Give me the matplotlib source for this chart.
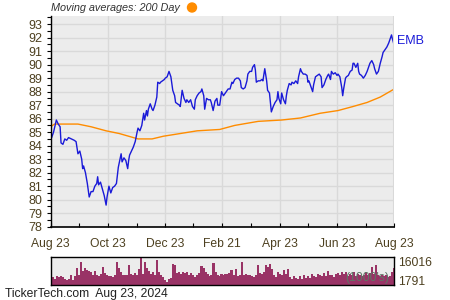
import numpy as np
import pandas as pd
import matplotlib
matplotlib.use("Agg")
import matplotlib.pyplot as plt
from matplotlib import transforms
from matplotlib.patches import Ellipse

plt.rcParams['font.family'] = ['Liberation Sans', 'DejaVu Sans']

start = pd.Timestamp("2023-08-23")
end = pd.Timestamp("2024-08-23")

# EMB close, days after start
price_day = [0, 1, 3, 6, 8, 10, 11, 13, 15, 17, 19, 22, 25, 27, 29, 31, 33, 34, 35, 37,
             39, 41, 43, 45, 47, 49, 50, 51, 53, 55, 57, 59, 60, 62, 64, 66, 68, 70, 72, 75,
             76, 78, 80, 82, 83, 84, 88, 90, 92, 93, 95, 97, 99, 100, 102, 103, 104, 106, 108, 109,
             111, 113, 114, 116, 117, 119, 121, 122, 124, 126, 128, 130, 132, 133, 135, 137, 138, 140, 142, 144,
             145, 147, 149, 151, 153, 154, 156, 158, 160, 161, 163, 164, 166, 168, 170, 171, 173, 175, 177, 178,
             180, 182, 184, 186, 187, 189, 191, 193, 194, 196, 198, 200, 202, 203, 205, 207, 209, 210, 212, 214,
             215, 217, 218, 219, 221, 223, 225, 226, 228, 230, 231, 233, 234, 235, 237, 239, 241, 242, 243, 245,
             246, 248, 250, 251, 252, 254, 256, 257, 259, 261, 263, 264, 266, 267, 269, 271, 273, 274, 275, 277,
             279, 280, 282, 284, 286, 288, 289, 291, 293, 295, 296, 298, 299, 301, 303, 305, 306, 308, 310, 311,
             312, 314, 315, 317, 319, 321, 322, 323, 325, 327, 328, 329, 331, 333, 335, 337, 338, 340, 342, 344,
             345, 347, 349, 351, 353, 354, 356, 358, 360, 361, 363, 364, 366]
price = [85.3, 84.6, 85.0, 85.9, 85.6, 85.4, 84.2, 84.1, 84.5, 84.4, 84.6, 84.5, 84.4, 84.3, 83.4, 83.6, 83.0, 82.3, 82.5, 82.0,
         81.2, 80.2, 80.6, 80.6, 81.0, 81.2, 81.7, 81.1, 81.3, 80.8, 80.3, 79.6, 80.2, 81.0, 80.5, 80.9, 81.0, 81.2, 82.4, 83.4,
         82.8, 83.1, 82.9, 82.3, 82.9, 83.3, 83.9, 84.3, 85.0, 85.3, 85.1, 85.5, 86.4, 85.9, 86.6, 86.2, 86.7, 87.1, 86.7, 86.6,
         87.0, 87.6, 88.7, 88.6, 88.7, 88.8, 88.9, 89.0, 89.1, 89.5, 89.1, 88.1, 87.7, 87.2, 87.1, 87.0, 86.9, 88.1, 87.5, 87.2,
         87.4, 87.2, 87.4, 86.9, 86.7, 87.4, 87.7, 87.9, 88.0, 88.2, 87.7, 86.7, 87.5, 87.4, 87.4, 87.2, 86.6, 87.3, 87.5, 87.0,
         87.0, 88.0, 87.7, 87.9, 88.0, 88.2, 88.2, 88.7, 88.6, 88.9, 89.0, 89.0, 88.8, 88.3, 88.2, 88.3, 88.8, 89.3, 89.5, 89.5,
         89.8, 90.0, 89.6, 88.7, 88.8, 88.8, 88.9, 88.8, 89.7, 88.8, 88.1, 87.9, 87.2, 86.5, 86.9, 87.2, 87.4, 88.0, 87.5, 87.1,
         87.9, 87.4, 87.1, 87.7, 88.1, 88.6, 88.5, 88.7, 88.6, 88.8, 88.6, 89.1, 89.7, 89.5, 89.3, 89.3, 89.2, 88.7, 88.8, 88.4,
         88.0, 88.5, 89.1, 89.2, 89.3, 89.1, 88.3, 88.5, 88.9, 89.2, 89.3, 88.9, 89.5, 89.3, 89.4, 89.2, 89.3, 89.1, 88.3, 87.7,
         88.2, 89.0, 89.1, 89.2, 89.5, 89.6, 90.1, 90.1, 89.8, 90.1, 89.5, 89.3, 89.2, 89.0, 89.2, 89.5, 89.7, 90.1, 90.3, 90.0,
         89.7, 89.3, 89.5, 90.1, 90.6, 90.9, 91.1, 91.3, 91.6, 91.8, 92.2, 91.9, 91.4]

# 200 day moving average
ma_day = [0, 4, 29, 43, 59, 73, 88, 93, 108, 120, 138, 156, 180, 196, 221, 246, 266, 287, 306, 322, 337, 351, 366]
ma = [85.4, 85.6, 85.6, 85.4, 85.1, 84.9, 84.6, 84.5, 84.5, 84.7, 84.9, 85.1, 85.2, 85.5, 85.8, 85.9, 86.05, 86.4,
      86.6, 86.9, 87.2, 87.6, 88.2]

# volume (1000's)
volume = [4970, 4420, 3500, 4780, 4420, 4970, 4420, 3500, 2760, 3500, 5340, 2580, 4970, 9380, 5340, 12700, 8100, 9380, 8650, 8100,
          7180, 5700, 8100, 5700, 4970, 6260, 9940, 6810, 5700, 4970, 4970, 4420, 5700, 12700, 9380, 7540, 5700, 5340, 5700, 11220,
          6260, 5700, 6810, 5700,
          9020, 16016, 6260, 12700, 9380, 8100, 6260, 7540, 5340, 14170, 7180, 5700, 4420, 2580, 1791, 3130, 3860, 11780, 11220, 6810,
          7540, 6260, 7540, 6810, 7540, 5700, 6810, 5340, 4420, 5340, 6810, 10860, 9380, 7540, 6260, 4970, 5340, 12330, 7180, 5700,
          4970, 6260, 5700, 6260,
          6260, 6810, 8650, 5340, 9020, 4970, 5340, 13060, 5700, 6260, 5340, 5700, 4970, 4420, 5700, 11220, 6810, 6260, 7540, 11220,
          9940, 11780, 9020, 5700, 4420, 7540, 6260, 5340, 8650, 6260, 9020, 4420, 3500, 4970, 3860, 3130, 4970, 3500, 5340, 3860,
          4970, 3860, 6260, 4970,
          4420, 6260, 5340, 4970, 6810, 4970, 8100, 5700, 5340, 4420, 6260, 6810, 5700, 7540, 6260, 7540, 4970, 6260, 5340, 7180,
          4970, 6260, 5340, 4970, 5700, 7540, 5700, 6810, 9940, 6260, 11220, 5340, 4970, 5340, 4970, 5340, 4420, 4970, 7180, 9380]

major_dates = ["2023-08-23", "2023-10-23", "2023-12-23", "2024-02-21", "2024-04-23", "2024-06-23", "2024-08-23"]
major_labels = ["Aug 23", "Oct 23", "Dec 23", "Feb 21", "Apr 23", "Jun 23", "Aug 23"]

price_dates = start + pd.to_timedelta(price_day, unit="D")
ma_dates = start + pd.to_timedelta(ma_day, unit="D")
vol_dates = pd.date_range(start, end, periods=len(volume))
majors = pd.to_datetime(major_dates)
minors = majors[:-1] + (majors[1:] - majors[:-1]) / 2

tick_color = "#4d4020"
bg = "#ececec"
grid_c = "#d9d9d9"

fig = plt.figure(figsize=(4.5, 3), dpi=100)
ax = fig.add_axes([0.1127, 0.2443, 0.7636, 0.7023])
ax.set_facecolor(bg)

ax.plot(ma_dates, ma, color="#ff8c00", lw=1.0)
ax.plot(price_dates, price, color="#1a1ad8", lw=1.0)

ax.set_xlim(start, end)
ax.set_ylim(78, 93.6)
ax.set_yticks(np.arange(78, 94, 1))
ax.set_yticks(np.arange(78, 93.6, 0.5), minor=True)
ax.set_xticks(majors)
ax.set_xticklabels(major_labels)
ax.set_xticks(minors, minor=True)
ax.grid(True, which="major", color=grid_c, lw=1.0)
ax.set_axisbelow(True)
ax.tick_params(axis="y", which="both", direction="out", length=3, width=0.8, labelsize=9, labelcolor=tick_color, pad=3)
ax.tick_params(axis="x", which="both", direction="in", length=3, width=0.8, labelsize=8.7, labelcolor=tick_color, pad=8)
for s in ["top", "right"]:
    ax.spines[s].set_visible(False)
ax.axvline(end, color=grid_c, lw=1.5)
ax.spines["left"].set_linewidth(1.0)
ax.spines["bottom"].set_linewidth(1.2)

ax.text(1.008, 0.88, "EMB", transform=ax.transAxes, color="#1a1ad8", fontsize=9, va="center", ha="left")
fig.text(0.113, 0.973, "Moving averages: 200 Day", fontsize=7.85, style="italic", color="#333333", va="center", ha="left")
fig.add_artist(Ellipse((192 / 450, 1 - 7.5 / 300), 9 / 450, 9 / 300, transform=fig.transFigure,
                       color="#ff8c00"))

# volume panel
vax = fig.add_axes([0.1127, 0.05, 0.7636, 0.095])
vax.set_facecolor(bg)
vax.bar(vol_dates, volume, width=2.3, color="#993366", linewidth=0)
vax.set_xlim(start, end)
vax.set_ylim(0, 16016)
vax.set_xticks([])
vax.set_yticks([])
for s in vax.spines.values():
    s.set_linewidth(1.0)
trans = transforms.blended_transform_factory(vax.transAxes, vax.transData)
vax.text(1.01, 16016, "16016", transform=trans, fontsize=8.7, color=tick_color, va="top", ha="left")
vax.text(1.01, 1791, "1791", transform=trans, fontsize=8.7, color=tick_color, va="center", ha="left")
vax.text(0.985, 0.02, "(1000's)", transform=vax.transAxes, fontsize=8.7, color="#5f7565", va="bottom", ha="right")

fig.text(0.011, 0.01, "TickerTech.com  Aug 23, 2024", fontsize=8.7, color="#222222", va="baseline", ha="left")

fig.savefig("out.png", dpi=100)
